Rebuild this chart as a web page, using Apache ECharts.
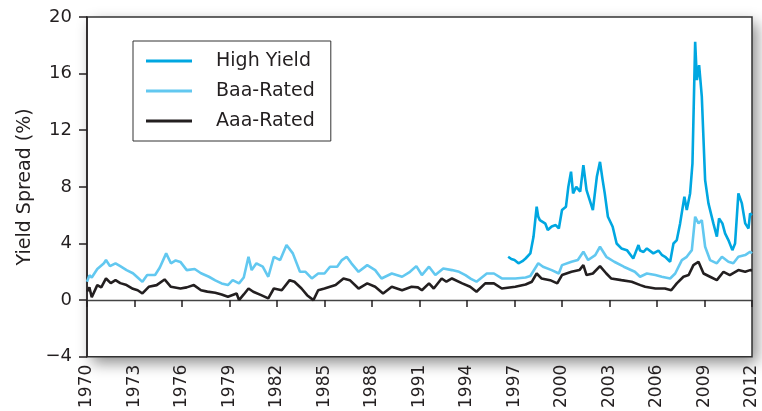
<!DOCTYPE html>
<html><head><meta charset="utf-8">
<script src="https://cdn.jsdelivr.net/npm/echarts@6/dist/echarts.min.js"></script>
<style>html,body{margin:0;padding:0;background:#fff}#c{width:762px;height:411px}</style>
</head><body><div id="c"></div>
<script>
const xTickYears = [1970,1973,1976,1979,1982,1985,1988,1991,1994,1997,2000,2003,2006,2009,2012];
const yTicks = [-4,0,4,8,12,16,20];
const seriesNames = ['High Yield','Baa-Rated','Aaa-Rated'];

const highYield = [
[1996.6,3.06],[1996.8,2.9],[1997.0,2.83],[1997.25,2.6],[1997.5,2.75],[1997.7,2.94],[1998.0,3.3],[1998.2,4.47],[1998.4,6.6],[1998.5,5.9],[1998.6,5.65],
[1998.95,5.4],[1999.1,4.95],[1999.35,5.2],[1999.6,5.3],[1999.8,5.06],[2000.0,6.36],[2000.25,6.6],[2000.4,8.0],[2000.57,9.07],
[2000.7,7.54],[2000.9,8.0],[2001.15,7.66],[2001.35,9.54],[2001.55,7.77],[2001.75,7.07],[2001.95,6.36],[2002.2,8.71],
[2002.4,9.77],[2002.55,8.6],[2002.7,7.54],[2002.9,5.89],[2003.2,5.18],[2003.45,4.0],[2003.75,3.65],[2004.1,3.53],[2004.5,2.94],
[2004.62,2.83],[2004.83,3.89],[2004.93,3.5],[2005.15,3.4],[2005.36,3.65],[2005.77,3.3],[2006.09,3.5],[2006.3,3.2],[2006.51,3.06],[2006.83,2.71],
[2007.04,4.0],[2007.25,4.24],[2007.46,5.42],[2007.73,7.3],[2007.88,6.36],[2008.09,7.54],[2008.24,9.66],[2008.41,18.25],
[2008.52,15.55],[2008.66,16.6],[2008.83,14.37],[2009.04,8.48],[2009.25,6.83],[2009.56,5.42],[2009.78,4.48],[2009.92,5.77],
[2010.13,5.42],[2010.3,4.71],[2010.51,4.24],[2010.76,3.53],[2010.93,4.0],[2011.14,7.54],[2011.36,6.83],[2011.57,5.42],
[2011.78,5.06],[2011.88,6.12],[2012.0,6.0]
];

const baaRated = [
[1970.0,1.3],[1970.15,1.75],[1970.3,1.6],[1970.65,2.2],[1971.07,2.6],[1971.2,2.83],[1971.45,2.4],[1971.8,2.6],[1972.1,2.4],
[1972.5,2.12],[1972.9,1.9],[1973.2,1.6],[1973.5,1.29],[1973.8,1.77],[1974.3,1.77],[1974.6,2.3],[1975.0,3.3],
[1975.3,2.6],[1975.6,2.8],[1975.9,2.7],[1976.3,2.12],[1976.8,2.2],[1977.2,1.9],[1977.7,1.65],[1978.1,1.4],
[1978.5,1.18],[1978.9,1.06],[1979.2,1.41],[1979.6,1.18],[1979.9,1.6],[1980.2,3.06],[1980.4,2.12],[1980.7,2.6],
[1981.1,2.36],[1981.45,1.65],[1981.8,3.06],[1982.2,2.83],[1982.6,3.89],[1983.0,3.3],[1983.45,2.0],[1983.8,2.0],
[1984.2,1.53],[1984.6,1.88],[1985.0,1.88],[1985.35,2.36],[1985.8,2.36],[1986.1,2.83],[1986.4,3.06],[1986.7,2.6],
[1987.15,2.0],[1987.7,2.47],[1988.2,2.12],[1988.6,1.53],[1989.25,1.88],[1989.9,1.65],[1990.4,2.0],[1990.8,2.4],
[1991.15,1.77],[1991.6,2.36],[1992.0,1.77],[1992.5,2.24],[1993.05,2.12],[1993.5,2.0],[1993.9,1.77],[1994.25,1.5],
[1994.6,1.3],[1995.25,1.88],[1995.7,1.88],[1996.2,1.53],[1997.05,1.53],[1997.7,1.6],[1998.0,1.7],[1998.5,2.6],
[1998.8,2.36],[1999.35,2.12],[1999.8,1.88],[2000.0,2.47],[2000.6,2.71],[2001.0,2.83],[2001.35,3.42],[2001.65,2.83],
[2002.1,3.18],[2002.4,3.77],[2002.8,3.06],[2003.3,2.71],[2003.9,2.36],[2004.6,2.0],[2004.93,1.65],[2005.36,1.88],
[2005.9,1.77],[2006.3,1.65],[2006.83,1.53],[2007.15,1.88],[2007.57,2.83],[2007.88,3.06],[2008.2,3.53],[2008.41,5.89],
[2008.62,5.42],[2008.83,5.65],[2009.04,3.77],[2009.35,2.83],[2009.78,2.6],[2010.1,3.06],[2010.51,2.71],[2010.82,2.6],
[2011.14,3.06],[2011.57,3.18],[2011.88,3.42],[2012.0,3.3]
];

const aaaRated = [
[1970.0,0.6],[1970.15,0.9],[1970.3,0.2],[1970.65,1.06],[1970.9,0.9],[1971.2,1.53],[1971.5,1.2],[1971.8,1.41],
[1972.1,1.2],[1972.5,1.06],[1972.9,0.8],[1973.2,0.7],[1973.5,0.47],[1973.9,0.94],[1974.4,1.06],[1974.9,1.46],
[1975.3,0.94],[1975.9,0.82],[1976.3,0.9],[1976.75,1.06],[1977.2,0.7],[1977.6,0.6],[1978.1,0.52],[1978.5,0.4],
[1978.9,0.24],[1979.45,0.47],[1979.6,0.0],[1979.9,0.4],[1980.2,0.82],[1980.5,0.59],[1981.0,0.35],[1981.45,0.12],
[1981.8,0.82],[1982.3,0.7],[1982.8,1.41],[1983.1,1.3],[1983.55,0.82],[1983.9,0.35],[1984.3,0.0],[1984.6,0.7],
[1985.0,0.82],[1985.7,1.06],[1986.2,1.53],[1986.6,1.41],[1987.15,0.82],[1987.7,1.18],[1988.2,0.94],[1988.7,0.47],
[1989.25,0.94],[1989.9,0.7],[1990.5,0.94],[1990.9,0.9],[1991.15,0.7],[1991.6,1.18],[1991.9,0.82],[1992.4,1.53],
[1992.7,1.3],[1993.05,1.53],[1993.7,1.18],[1994.2,0.94],[1994.6,0.59],[1995.15,1.18],[1995.7,1.18],[1996.2,0.82],
[1997.05,0.94],[1997.7,1.1],[1998.1,1.3],[1998.4,1.88],[1998.7,1.53],[1999.25,1.41],[1999.7,1.18],[2000.0,1.77],
[2000.6,2.0],[2001.1,2.12],[2001.35,2.47],[2001.55,1.77],[2001.95,1.88],[2002.4,2.4],[2002.8,1.88],[2003.1,1.53],
[2003.75,1.41],[2004.4,1.3],[2004.95,1.06],[2005.25,0.94],[2005.9,0.82],[2006.5,0.82],[2006.9,0.7],[2007.25,1.18],
[2007.67,1.65],[2008.0,1.77],[2008.3,2.47],[2008.62,2.71],[2008.94,1.88],[2009.35,1.65],[2009.78,1.41],[2010.2,2.0],
[2010.6,1.77],[2011.14,2.12],[2011.57,2.0],[2011.88,2.12],[2012.0,2.1]
];

const colors = ['#00a7e1','#62c8f0','#231f20'];
const FONT = 'DejaVu Sans';
const TXT = '#231f20';
const G = { left: 87, right: 10, top: 17, bottom: 54 };
const W = 762, H = 411;

const chart = echarts.init(document.getElementById('c'), null, {renderer:'canvas'});
chart.setOption({
  animation: false,
  backgroundColor: '#fff',
  graphic: [{
    type: 'rect', z: -10, silent: true,
    shape: { x: G.left, y: G.top, width: W - G.left - G.right, height: H - G.top - G.bottom },
    style: { fill: '#fff', shadowColor: 'rgba(0,0,0,0.45)', shadowBlur: 14, shadowOffsetX: 5, shadowOffsetY: 6 }
  }],
  grid: {
    left: G.left, right: G.right, top: G.top, bottom: G.bottom,
    show: true, backgroundColor: '#fff', borderColor: '#333', borderWidth: 1.5
  },
  legend: {
    data: seriesNames,
    orient: 'vertical',
    left: 133, top: 41,
    padding: [10, 16, 10, 13],
    borderColor: '#333', borderWidth: 1,
    backgroundColor: '#fff',
    icon: 'rect', itemWidth: 46, itemHeight: 3, itemGap: 10,
    textStyle: { fontFamily: FONT, fontSize: 19, color: TXT, lineHeight: 20, padding: [0,0,0,19] }
  },
  xAxis: [
    {
      type: 'value', min: xTickYears[0], max: xTickYears[xTickYears.length-1], interval: 3,
      position: 'bottom',
      axisLine: { show: true, onZero: true, lineStyle: { color: '#444', width: 1.3 } },
      axisTick: { show: true, length: 7, lineStyle: { color: '#231f20', width: 1.5 } },
      axisLabel: { show: false },
      splitLine: { show: false }
    },
    {
      type: 'value', min: xTickYears[0], max: xTickYears[xTickYears.length-1], interval: 3,
      position: 'bottom',
      axisLine: { show: false, onZero: false },
      axisTick: { show: false },
      axisLabel: { show: true, rotate: 90, margin: 8, fontFamily: FONT, fontSize: 17, color: TXT,
        formatter: v => String(v) },
      splitLine: { show: false }
    }
  ],
  yAxis: {
    type: 'value', min: yTicks[0], max: yTicks[yTicks.length-1], interval: 4,
    name: 'Yield Spread (%)', nameLocation: 'middle', nameGap: 52, nameRotate: 90,
    nameTextStyle: { fontFamily: FONT, fontSize: 19, color: TXT },
    axisLine: { show: true, lineStyle: { color: '#231f20', width: 1.5 } },
    axisTick: { show: true, length: 8, lineStyle: { color: '#231f20', width: 1.5 } },
    axisLabel: { margin: 15, fontFamily: FONT, fontSize: 18, color: TXT,
      formatter: v => String(v).replace('-', '\u2212') },
    splitLine: { show: false }
  },
  series: [
    { name: seriesNames[2], type: 'line', data: aaaRated, showSymbol: false, color: colors[2],
      lineStyle: { width: 2.6, color: colors[2] }, z: 3 },
    { name: seriesNames[1], type: 'line', data: baaRated, showSymbol: false, color: colors[1],
      lineStyle: { width: 2.6, color: colors[1] }, z: 4 },
    { name: seriesNames[0], type: 'line', data: highYield, showSymbol: false, color: colors[0],
      lineStyle: { width: 2.6, color: colors[0] }, z: 5 }
  ]
});
</script>
</body></html>
